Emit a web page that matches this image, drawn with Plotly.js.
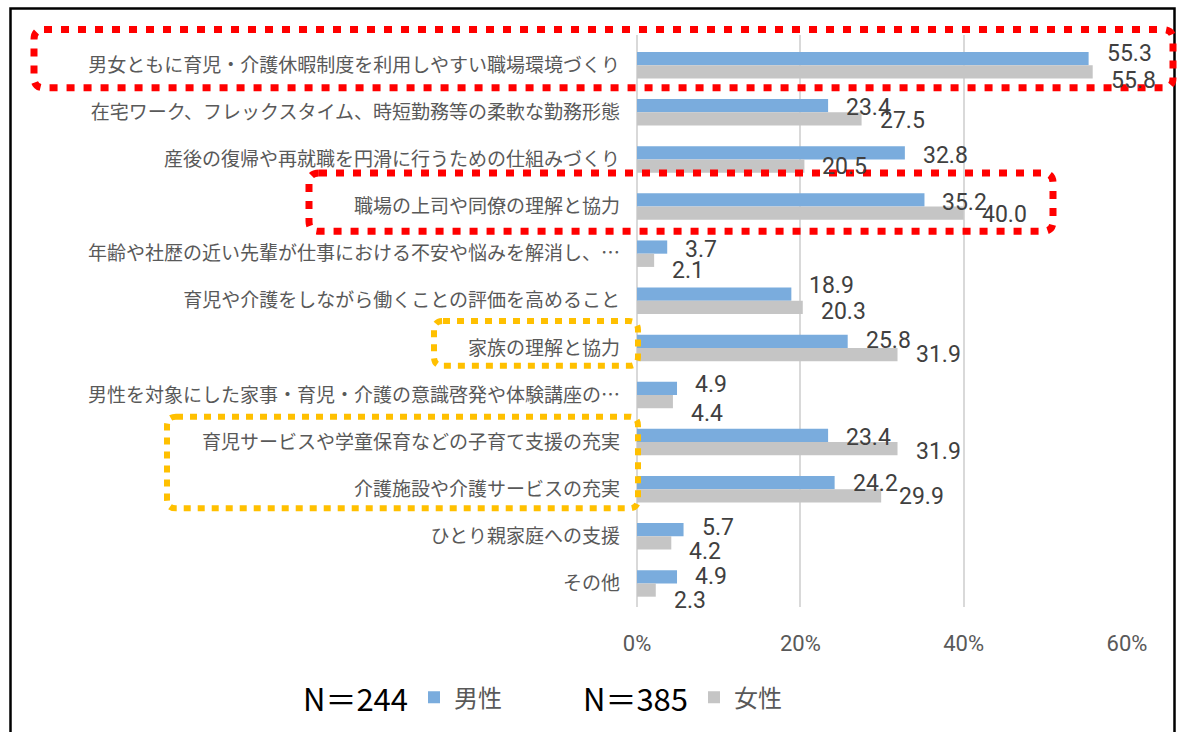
<!DOCTYPE html>
<html><head><meta charset="utf-8">
<script src="https://cdn.plot.ly/plotly-3.0.1.min.js"></script>
<style>html,body{margin:0;padding:0;background:#fff}#chart{width:1182px;height:732px}</style>
</head><body><div id="chart"></div>
<script>
// ---- data ----
const categories = [
  '男女ともに育児・介護休暇制度を利用しやすい職場環境づくり',
  '在宅ワーク、フレックスタイム、時短勤務等の柔軟な勤務形態',
  '産後の復帰や再就職を円滑に行うための仕組みづくり',
  '職場の上司や同僚の理解と協力',
  '年齢や社歴の近い先輩が仕事における不安や悩みを解消し、…',
  '育児や介護をしながら働くことの評価を高めること',
  '家族の理解と協力',
  '男性を対象にした家事・育児・介護の意識啓発や体験講座の…',
  '育児サービスや学童保育などの子育て支援の充実',
  '介護施設や介護サービスの充実',
  'ひとり親家庭への支援',
  'その他'
];
const maleValues   = [55.3, 23.4, 32.8, 35.2, 3.7, 18.9, 25.8, 4.9, 23.4, 24.2, 5.7, 4.9];
const femaleValues = [55.8, 27.5, 20.5, 40.0, 2.1, 20.3, 31.9, 4.4, 31.9, 29.9, 4.2, 2.3];
const seriesNames = ['男性', '女性'];
const sampleSizes = ['N＝244', 'N＝385'];
const xTickVals = [0, 20, 40, 60];
const xTickText = ['0%', '20%', '40%', '60%'];

// ---- label placement tweaks (pixels, positive = down) ----
const maleLabelNudge   = [-5, 2, 2.5, 2.5, 2.5, -9, -1, -4, 2, 1.5, -2.5, 0];
const femaleLabelNudge = [8, 1.7, 0.7, 1, 10, 4, 0, 12, 2.5, 0.5, 8, 10.5];

// ---- geometry ----
const W = 1182, H = 732, ML = 637, MR = 55, MT = 35, MB = 123;
const PW = W - ML - MR, PH = H - MT - MB;
const px = x => (x - ML) / PW;
const py = y => (H - MB - y) / PH;
const BAR_OFF = 6.75;

const blue = '#7AACDD', gray = '#C5C5C5';
const cjk = '"Noto Sans CJK JP", "Noto Sans", sans-serif';
const num = 'Roboto, "Noto Sans", sans-serif';

const traces = [
  {type: 'bar', orientation: 'h', name: seriesNames[0], y: categories, x: maleValues,
   marker: {color: blue}, legend: 'legend', hoverinfo: 'x+y'},
  {type: 'bar', orientation: 'h', name: seriesNames[1], y: categories, x: femaleValues,
   marker: {color: gray}, legend: 'legend2', hoverinfo: 'x+y'}
];

const labelFont = {family: num, size: 23, color: '#404040'};
const annotations = [];
categories.forEach((c, i) => {
  annotations.push({x: maleValues[i], y: c, xref: 'x', yref: 'y', text: maleValues[i].toFixed(1),
    showarrow: false, xanchor: 'left', yanchor: 'middle', xshift: 16,
    yshift: -(-BAR_OFF + maleLabelNudge[i]), font: labelFont});
  annotations.push({x: femaleValues[i], y: c, xref: 'x', yref: 'y', text: femaleValues[i].toFixed(1),
    showarrow: false, xanchor: 'left', yanchor: 'middle', xshift: 16,
    yshift: -(BAR_OFF + femaleLabelNudge[i]), font: labelFont});
});
annotations.push({x: px(301), y: py(700), xref: 'paper', yref: 'paper', text: sampleSizes[0],
  showarrow: false, xanchor: 'left', yanchor: 'middle', font: {family: cjk, size: 31, color: '#000'}});
annotations.push({x: px(581), y: py(700), xref: 'paper', yref: 'paper', text: sampleSizes[1],
  showarrow: false, xanchor: 'left', yanchor: 'middle', font: {family: cjk, size: 31, color: '#000'}});

function roundRect(x0, y0, x1, y1, r) {
  const X = v => px(v).toFixed(5), Y = v => py(v).toFixed(5);
  return 'M' + X(x0 + r) + ',' + Y(y0) +
    ' L' + X(x1 - r) + ',' + Y(y0) +
    ' Q' + X(x1) + ',' + Y(y0) + ' ' + X(x1) + ',' + Y(y0 + r) +
    ' L' + X(x1) + ',' + Y(y1 - r) +
    ' Q' + X(x1) + ',' + Y(y1) + ' ' + X(x1 - r) + ',' + Y(y1) +
    ' L' + X(x0 + r) + ',' + Y(y1) +
    ' Q' + X(x0) + ',' + Y(y1) + ' ' + X(x0) + ',' + Y(y1 - r) +
    ' L' + X(x0) + ',' + Y(y0 + r) +
    ' Q' + X(x0) + ',' + Y(y0) + ' ' + X(x0 + r) + ',' + Y(y0) + ' Z';
}

const shapes = [
  {type: 'path', xref: 'paper', yref: 'paper',
   path: 'M' + px(10.5) + ',' + py(760) + ' L' + px(10.5) + ',' + py(8.5) + ' L' + px(1174.5) + ',' + py(8.5) + ' L' + px(1174.5) + ',' + py(760),
   line: {color: '#000', width: 2.5}},
  {type: 'path', xref: 'paper', yref: 'paper', path: roundRect(34, 29.5, 1173, 88, 10),
   line: {color: '#FF0000', width: 7, dash: '8px,9px'}},
  {type: 'path', xref: 'paper', yref: 'paper', path: roundRect(309, 173.5, 1053, 232, 10),
   line: {color: '#FF0000', width: 7, dash: '8px,9px'}},
  {type: 'path', xref: 'paper', yref: 'paper', path: roundRect(434, 322, 638, 367, 9),
   line: {color: '#FFC000', width: 6, dash: '7px,7px'}},
  {type: 'path', xref: 'paper', yref: 'paper', path: roundRect(167, 418, 638, 510, 9),
   line: {color: '#FFC000', width: 6, dash: '7px,7px'}}
];

const legendCommon = {orientation: 'h', yanchor: 'middle', xanchor: 'left', y: py(700),
  font: {family: cjk, size: 24, color: '#595959'}, bgcolor: 'rgba(0,0,0,0)', borderwidth: 0};

const layout = {
  width: W, height: H,
  margin: {l: ML, r: MR, t: MT, b: MB, pad: 0},
  paper_bgcolor: '#fff', plot_bgcolor: '#fff',
  barmode: 'group', bargap: 0.4375, bargroupgap: 0,
  showlegend: true,
  legend: Object.assign({}, legendCommon, {x: px(414)}),
  legend2: Object.assign({}, legendCommon, {x: px(694)}),
  xaxis: {range: [0, 60], tickvals: xTickVals, ticktext: xTickText, showgrid: true,
    gridcolor: '#D9D9D9', gridwidth: 2, zeroline: true, zerolinecolor: '#D9D9D9', zerolinewidth: 2,
    showline: false, ticks: '', ticklabelstandoff: 21, fixedrange: true,
    tickfont: {family: num, size: 22, color: '#595959'}},
  yaxis: {type: 'category', autorange: 'reversed', showgrid: false, zeroline: false, showline: false,
    ticks: '', ticklabelstandoff: 16, fixedrange: true,
    tickfont: {family: cjk, size: 19, color: '#595959'}},
  annotations: annotations,
  shapes: shapes,
  hovermode: false
};

Plotly.newPlot('chart', traces, layout, {displayModeBar: false, staticPlot: true});
</script>
</body></html>
